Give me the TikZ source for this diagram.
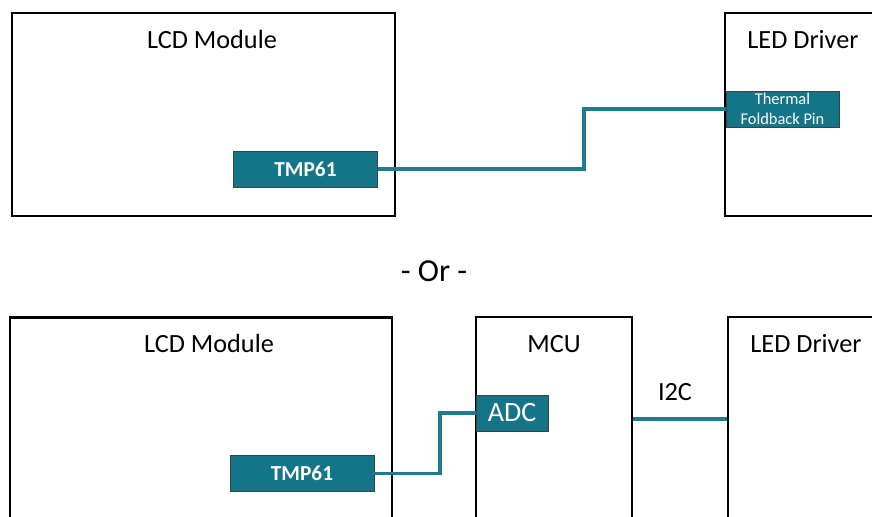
\documentclass[tikz,border=0pt]{standalone}
\usepackage{fontspec}
\setmainfont{Carlito}
\usepackage{xcolor}
\usetikzlibrary{positioning,calc}
\definecolor{tealbox}{HTML}{137587}
\definecolor{tealline}{HTML}{1F7C8C}
\tikzset{
    blockbox/.style={draw=black,line width=2.2pt,minimum width=#1,inner sep=0pt},
    chipbox/.style={draw=black!75,fill=tealbox,text=white,inner sep=0pt,line width=.6pt,align=center},
    titletext/.style={font=\fontsize{19.7}{22}\selectfont,inner sep=0pt},
    wireline/.style={draw=tealline,line width=2.3pt}
}
\begin{document}
\begin{tikzpicture}[x=.75pt,y=-.75pt]
    \clip (0,0) rectangle (872,517);
    \useasboundingbox (0,0) rectangle (872,517);

    % upper variant
    \node[blockbox=287.25pt,minimum height=152.25pt] (lcdtop) at (203.5,114.5) {};
    \node[blockbox=150pt,minimum height=152.25pt] (ledtop) at (825,114.5) {};
    \node[titletext] (lcdtoplabel) at (212,39) {LCD Module};
    \node[titletext] (ledtoplabel) at (803,39.5) {LED Driver};
    \node[chipbox,minimum width=108pt,minimum height=27pt,font=\bfseries\fontsize{16}{18}\selectfont] (tmptop) at (305.5,169) {TMP61};
    \node[chipbox,minimum width=84.75pt,minimum height=27pt,font=\fontsize{12.3}{15}\selectfont] (pinled) at (782.5,109) {Thermal\\Foldback Pin};
    \coordinate (kneetop) at (584,140);
    \draw[wireline] (tmptop.east) -- (kneetop |- tmptop.east) -- (kneetop |- pinled.west) -- (pinled.west);

    \node[font=\fontsize{24}{26}\selectfont,inner sep=0pt] (orlabel) at (434,271) {- Or -};

    % lower variant
    \node[blockbox=286.5pt,minimum height=153pt] (lcdbot) at (201,419.5) {};
    \node[blockbox=117pt,minimum height=153pt] (mcu) at (554,419) {};
    \node[blockbox=150pt,minimum height=153pt] (ledbot) at (828,419) {};
    \node[titletext] (lcdbotlabel) at (209,343) {LCD Module};
    \node[titletext] (mculabel) at (554,344) {MCU};
    \node[titletext] (ledbotlabel) at (806,343.5) {LED Driver};
    \node[titletext] (i2clabel) at (675,392) {I2C};
    \node[chipbox,minimum width=108pt,minimum height=27pt,font=\bfseries\fontsize{16}{18}\selectfont] (tmpbot) at (302,473.5) {TMP61};
    \node[chipbox,minimum width=54pt,minimum height=27pt,font=\fontsize{21}{23}\selectfont] (adc) at (512,413) {ADC};
    \coordinate (kneebot) at (440,440);
    \draw[wireline] (tmpbot.east) -- (kneebot |- tmpbot.east) -- (kneebot |- adc.west) -- (adc.west);
    \draw[wireline] (mcu.east) -- (ledbot.west);
\end{tikzpicture}
\end{document}
